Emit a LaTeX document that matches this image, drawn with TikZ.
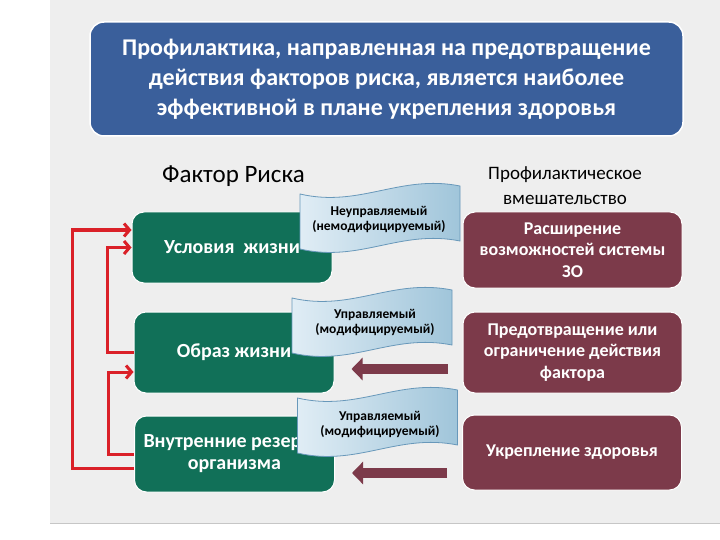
\documentclass[tikz,border=0pt]{standalone}
\usepackage{fontspec}
\setmainfont{Carlito}
\usetikzlibrary{arrows.meta,calc}
\definecolor{bgc}{RGB}{238,238,238}
\definecolor{titleblue}{RGB}{58,95,155}
\definecolor{boxgreen}{RGB}{17,112,88}
\definecolor{boxmaroon}{RGB}{124,58,74}
\definecolor{linkred}{RGB}{218,32,40}
\definecolor{banleft}{RGB}{224,237,245}
\definecolor{banright}{RGB}{160,197,218}
\definecolor{banborder}{RGB}{104,152,186}
\begin{document}
\begin{tikzpicture}[x=1pt,y=-1pt,
  titlebox/.style={rectangle,rounded corners=14pt,fill=titleblue,draw=white,line width=1.5pt,
    text=white,font=\fontsize{24}{30}\selectfont\bfseries,align=center,minimum width=593pt,minimum height=114pt},
  greenbox/.style={rectangle,rounded corners=12pt,fill=boxgreen,draw=white,line width=1pt,
    text=white,font=\fontsize{20}{22}\selectfont\bfseries,align=center,minimum width=200pt},
  maroonbox/.style={rectangle,rounded corners=12pt,fill=boxmaroon,draw=white,line width=1pt,
    text=white,font=\fontsize{18}{21.5}\selectfont\bfseries,align=center,minimum width=219pt},
  header/.style={text=black,align=center,inner sep=0pt},
  bantext/.style={text=black,font=\fontsize{13.5}{15}\selectfont\bfseries,align=center,inner sep=0pt},
  bannershape/.style={left color=banleft,right color=banright,draw=banborder,line width=0.8pt},
  redlink/.style={draw=linkred,line width=3pt,line join=miter,-{Straight Barb[length=5.5pt,width=13pt]}},
  blockarrow/.style={draw=boxmaroon,line width=10pt,-{Triangle[length=11pt,width=22pt]},shorten <=15pt,shorten >=17pt},
  banner/.pic={\path[bannershape] (-80,-25) .. controls (-20,-11) and (20,-45) .. (80,-33) -- (80,22) .. controls (20,10) and (-20,44) .. (-80,30) -- cycle;}
]
\useasboundingbox (0,0) rectangle (720,540);
% background panel
\fill[white] (0,0) rectangle (720,540);
\fill[bgc] (50,0) rectangle (720,523);
\draw[gray!45,line width=1.5pt] (50,523.5) -- (720,523.5);

% title
\node[titlebox] (title) at (386.5,79) {Профилактика, направленная на предотвращение\\действия факторов риска, является наиболее\\эффективной в плане укрепления здоровья};

% headers
\node[header,font=\fontsize{25}{28}\selectfont] (hleft) at (233.5,176) {Фактор Риска};
\node[header,font=\fontsize{19}{25}\selectfont] (hright) at (565,186) {Профилактическое\\вмешательство};

% green boxes
\node[greenbox,minimum height=71pt] (g1) at (232,247.5) {Условия\ \ жизни};
\node[greenbox,minimum height=81pt] (g2) at (234,352.5) {Образ жизни};
\node[greenbox,minimum height=76pt] (g3) at (234.5,454) {Внутренние резервы\\организма};

% maroon boxes
\node[maroonbox,minimum height=76pt] (r1) at (572.5,250) {Расширение\\возможностей системы\\ЗО};
\node[maroonbox,minimum height=81pt] (r2) at (572.5,352.5) {Предотвращение или\\ограничение действия\\фактора};
\node[maroonbox,minimum height=75pt] (r3) at (572,452.5) {Укрепление здоровья};

% red connectors
\draw[redlink] ([yshift=-14pt]g3.west) -- ++(-62,0) |- ([yshift=17.5pt]g1.west);
\draw[redlink] (g2.west) -- ++(-26,0) |- (g1.west);
\draw[redlink] (g3.west) -- ++(-26,0) |- ([yshift=-19.5pt]g2.west);

% block arrows
\coordinate (a2) at ([yshift=-16.5pt]r2.west);
\coordinate (a3) at ([yshift=-20.5pt]r3.west);
\draw[blockarrow] (a2) -- (a2 -| g2.east);
\draw[blockarrow] (a3) -- (a3 -| g3.east);

% banners
\pic at (380,219) {banner};
\node[bantext] (b1) at (379,219.5) {Неуправляемый\\(немодифицируемый)};
\pic at (372,323) {banner};
\node[bantext] (b2) at (375,322.5) {Управляемый\\(модифицируемый)};
\pic at (377.5,423) {banner};
\node[bantext] (b3) at (380,424.5) {Управляемый\\(модифицируемый)};
\end{tikzpicture}
\end{document}
